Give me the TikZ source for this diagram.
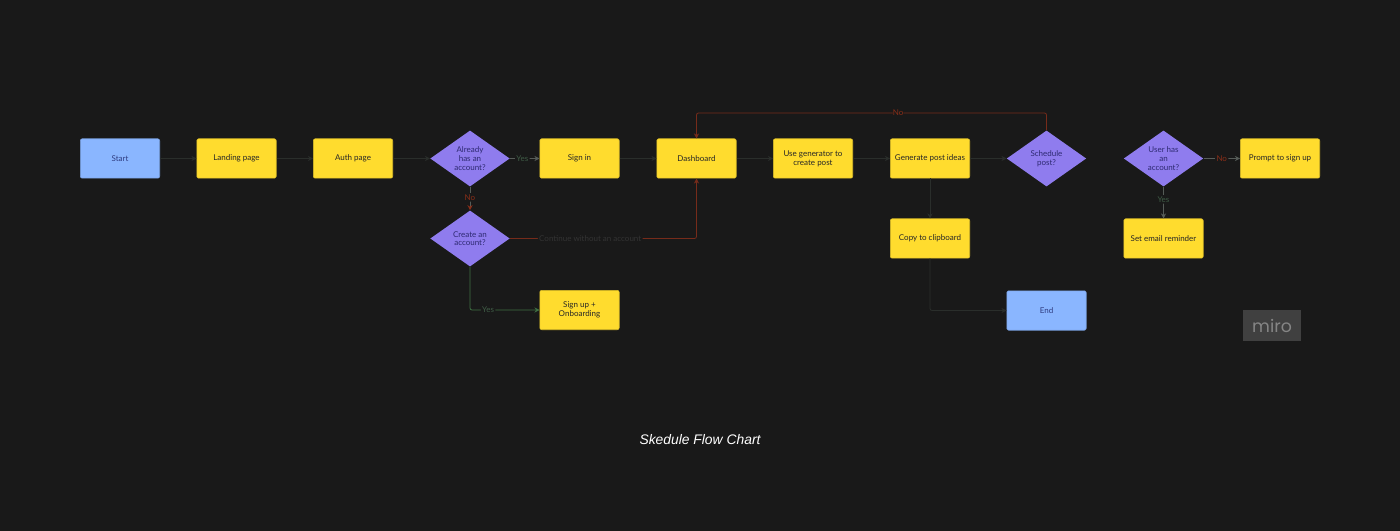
\documentclass[tikz,border=0pt]{standalone}
\usepackage{fontspec}
\setmainfont{Lato}
\newfontfamily\titlefont{Liberation Sans}
\newfontfamily\badgefont{Poppins}
\usetikzlibrary{shapes.geometric,arrows.meta}
\definecolor{canvasbg}{HTML}{191919}
\definecolor{noteyellow}{HTML}{FFDC2E}
\definecolor{noteblue}{HTML}{8AB6FF}
\definecolor{notepurple}{HTML}{8F7CEE}
\definecolor{darkline}{HTML}{2A2E2B}
\definecolor{greyline}{HTML}{565C58}
\definecolor{greenline}{HTML}{3F7042}
\definecolor{redline}{HTML}{762B1A}
\definecolor{greenlabel}{HTML}{3F5C46}
\definecolor{redlabel}{HTML}{8A2E18}
\definecolor{askink}{HTML}{2E2A72}
\definecolor{startink}{HTML}{2F3C80}
\tikzset{
  note/.style={draw=#1!85!black,fill=#1,line width=0.4pt,rounded corners=1.5pt,minimum width=59.6pt,minimum height=29.6pt,inner sep=0pt,align=center,font=\fontsize{6}{6.5}\selectfont,text=black!85},
  ask/.style={diamond,fill=notepurple,minimum width=59.6pt,minimum height=42pt,aspect=1.41,inner sep=0pt,align=center,font=\fontsize{6}{6.5}\selectfont,text=askink},
  flow/.style={-{Stealth[length=3.8pt,width=3.8pt]},line width=0.6pt,rounded corners=1.5pt},
  edgetext/.style={fill=canvasbg,inner sep=1pt,font=\fontsize{6}{7}\selectfont}
}
\begin{document}
\begin{tikzpicture}[x=0.75pt,y=0.75pt,yscale=-1,xscale=1]
    % page background
    \fill[canvasbg] (0,0) rectangle (1400,531);
    \useasboundingbox (0,0) rectangle (1400,531);

    % top row
    \node[note=noteblue,text=startink] (start) at (120,158.5) {Start};
    \node[note=noteyellow] (landing) at (236.5,158.5) {Landing page};
    \node[note=noteyellow] (auth) at (353,158.5) {Auth page};
    \node[ask] (already) at (470,158.5) {Already\\has an\\account?};
    \node[note=noteyellow] (signin) at (579.5,158.5) {Sign in};
    \node[note=noteyellow] (dashboard) at (696.5,158.5) {Dashboard};
    \node[note=noteyellow] (usegen) at (813,158.5) {Use generator to\\create post};
    \node[note=noteyellow] (ideas) at (930,158.5) {Generate post ideas};
    \node[ask] (schedule) at (1046.5,158.5) {Schedule\\post?};
    \node[ask] (userhas) at (1163.5,158.5) {User has\\an\\account?};
    \node[note=noteyellow] (prompt) at (1280,158.5) {Prompt to sign up};

    % lower rows
    \node[ask] (create) at (470,238.5) {Create an\\account?};
    \node[note=noteyellow] (copy) at (930,238.5) {Copy to clipboard};
    \node[note=noteyellow] (reminder) at (1163.5,238.5) {Set email reminder};
    \node[note=noteyellow] (signup) at (579.5,310) {Sign up +\\Onboarding};
    \node[note=noteblue,text=startink] (end) at (1046.5,310.5) {End};

    % plain connectors
    \draw[flow,darkline] (start) -- (landing);
    \draw[flow,darkline] (landing) -- (auth);
    \draw[flow,darkline] (auth) -- (already);
    \draw[flow,darkline] (signin) -- (dashboard);
    \draw[flow,darkline] (dashboard) -- (usegen);
    \draw[flow,darkline] (usegen) -- (ideas);
    \draw[flow,darkline] (ideas) -- (schedule);
    \draw[flow,darkline] (ideas) -- (copy);
    \draw[flow,darkline] (copy) |- (end);

    % yes and no branches
    \draw[flow,greyline] (already) -- node[edgetext,text=greenlabel,pos=0.42] (yessign) {Yes} (signin);
    \draw[flow,greyline,-{Stealth[length=3.8pt,width=3.8pt,color=redlabel]}] (already) -- node[edgetext,text=redlabel,pos=0.45] (noalready) {No} (create);
    \draw[flow,redline] (create.east) -| node[edgetext,text=black!80!white,pos=0.215] (continue) {Continue without an account} (dashboard.south);
    \draw[flow,greenline] (create.south) |- node[edgetext,text=greenlabel,pos=0.63] (yessignup) {Yes} (signup.west);
    \coordinate (looptop) at (696.5,113);
    \draw[flow,redline] (schedule.north) |- node[edgetext,text=redlabel,pos=0.712,inner sep=0pt] (noloop) {No} (looptop) -- (dashboard.north);
    \draw[flow,greyline] (userhas) -- node[edgetext,text=redlabel,pos=0.5] (noprompt) {No} (prompt);
    \draw[flow,greyline] (userhas) -- node[edgetext,text=greenlabel,pos=0.4] (yesreminder) {Yes} (reminder);

    % badge and caption
    \node[fill=white!17!canvasbg,text=white!47!canvasbg,minimum width=43.5pt,minimum height=23.5pt,inner sep=0pt,font=\badgefont\fontsize{13}{13}\selectfont] (badge) at (1272,325.5) {miro};
    \node[text=white,font=\titlefont\itshape\fontsize{10.4}{12}\selectfont] (caption) at (700,439.5) {Skedule Flow Chart};
\end{tikzpicture}
\end{document}
